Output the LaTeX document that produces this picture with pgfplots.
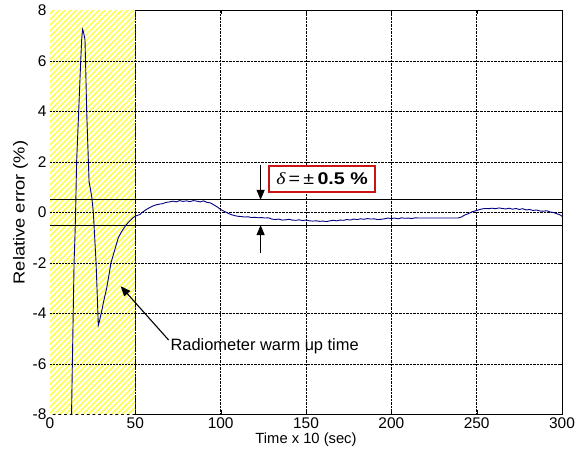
\documentclass[border=0pt]{standalone}
\usepackage{graphicx}
\usepackage{pgfplots}
\pgfplotsset{compat=1.18}
\usepackage{fontspec}
\setmainfont{Liberation Sans}
\newfontfamily\serif{Liberation Serif}
\usetikzlibrary{patterns,arrows.meta}
\definecolor{navy}{RGB}{0,0,128}
\definecolor{hl}{RGB}{255,255,90}
\definecolor{boxred}{RGB}{200,20,20}
\pgfdeclarepatternformonly{widestripes}{\pgfqpoint{-1bp}{-1bp}}{\pgfqpoint{6.7bp}{6.7bp}}{\pgfqpoint{5.7bp}{5.7bp}}{%
  \pgfsetlinewidth{1.9bp}%
  \pgfpathmoveto{\pgfqpoint{-0.5bp}{-0.5bp}}\pgfpathlineto{\pgfqpoint{6.2bp}{6.2bp}}\pgfusepath{stroke}}
\begin{document}
\begin{tikzpicture}[x=1bp,y=1bp]
\path[use as bounding box] (-50,-45.5) rectangle (526,414.5);
\begin{axis}[
  scale only axis, width=512bp, height=404bp,
  xmin=0, xmax=300, ymin=-8, ymax=8,
  xtick={0,50,...,300}, ytick={-8,-6,...,8},
  grid=major, major grid style={black, densely dotted, line width=0.5pt},
  tick align=inside, major tick length=4bp,
  axis line style={black, line width=0.6pt},
  tick style={black},
  tick label style={font=\fontsize{15.5}{17}\selectfont},
  /pgf/number format/assume math mode=true,
  xlabel={Time x 10 (sec)}, ylabel={\scalebox{1.15}[1]{Relative error (\%)}},
  xlabel style={font=\fontsize{14.8}{17}\selectfont, yshift=3bp},
  ylabel style={font=\fontsize{16}{18}\selectfont, yshift=-2bp},
  clip=true,
]
\fill[hl] (axis cs:0,-8) rectangle (axis cs:50,8);
\fill[pattern=widestripes, pattern color=white] (axis cs:0,-8) rectangle (axis cs:50,8);
\draw[black, densely dotted, line width=0.5pt] (axis cs:50,-8) -- (axis cs:50,8);
\foreach \yy in {-6,-4,...,6} {\edef\tmp{\noexpand\draw[black, densely dotted, line width=0.5pt] (axis cs:0,\yy) -- (axis cs:50,\yy);}\tmp}
\addplot[black, line width=0.9pt] coordinates {(0,0.5) (300,0.5)};
\addplot[black, line width=0.9pt] coordinates {(0,-0.5) (300,-0.5)};
\addplot[navy, line width=0.9pt] coordinates {
(12.5,-8.5) (13.1,-6) (13.6,-4) (14.1,-2) (14.6,-1) (15.0,0) (15.6,2) (16.2,3) (16.8,4) (17.4,5) (18.0,6) (18.6,6.9) (19.1,7.25) (19.6,7.15) (20.5,6.85) (21.0,5.5) (21.5,4) (22.0,3) (22.5,2) (22.9,1.2) (23.5,1.0) (24.5,0.6) (25.4,0) (26.2,-1) (27.0,-2) (27.7,-3.3) (28.3,-4.47) (29.0,-4.3) (30.3,-3.9) (31.5,-3.5) (33.2,-3.0) (34.5,-2.5) (35.7,-2.0) (37,-1.7) (38.5,-1.35) (40,-1.0) (42,-0.75) (44.5,-0.5) (46.5,-0.35) (48.7,-0.2) (50.5,-0.13) (52.7,-0.08) (54,0.0) (56,0.1) (58,0.18) (60,0.25) (62,0.3) (64,0.33) (66,0.35) (68,0.4) (70,0.42) (72,0.45) (74,0.42) (76,0.47) (78,0.44) (80,0.46) (82,0.43) (84,0.47) (86,0.45) (88,0.42) (90,0.46) (92,0.40) (94,0.38) (96,0.30) (98,0.22) (100,0.12) (102,0.05) (104,-0.02) (106,-0.08) (108,-0.12) (110,-0.15) (112,-0.16) (114,-0.18) (116,-0.17) (118,-0.2) (120,-0.19) (122,-0.21) (124,-0.2) (126,-0.22) (128,-0.21) (130,-0.26) (132,-0.28) (134,-0.26) (136,-0.30) (138,-0.29) (140,-0.27) (142,-0.30) (144,-0.31) (146,-0.29) (148,-0.32) (150,-0.30) (152,-0.33) (154,-0.34) (156,-0.33) (158,-0.35) (160,-0.34) (162,-0.36) (164,-0.33) (166,-0.31) (168,-0.33) (170,-0.30) (172,-0.31) (174,-0.28) (176,-0.30) (178,-0.26) (180,-0.28) (182,-0.25) (184,-0.27) (186,-0.24) (188,-0.26) (190,-0.25) (192,-0.28) (194,-0.27) (196,-0.25) (198,-0.22) (200,-0.24) (202,-0.22) (204,-0.25) (206,-0.21) (208,-0.23) (210,-0.22) (212,-0.24) (214,-0.21) (216,-0.22) (218,-0.22) (220,-0.22) (225,-0.22) (230,-0.22) (235,-0.22) (239,-0.22) (241,-0.18) (243,-0.1) (245,-0.05) (247,0.02) (249,0.06) (251,0.10) (253,0.14) (255,0.16) (257,0.15) (259,0.17) (261,0.15) (263,0.18) (265,0.16) (267,0.14) (269,0.17) (271,0.13) (273,0.16) (275,0.12) (277,0.15) (279,0.10) (281,0.12) (283,0.08) (285,0.10) (287,0.06) (289,0.05) (291,0.07) (293,0.02) (295,0.0) (297,-0.05) (299,-0.1) (300,-0.15)
};
\draw[black, line width=1.2pt, -{Triangle[length=10bp,width=8bp]}] (axis cs:123.4,1.88) -- (axis cs:123.4,0.5);
\draw[black, line width=1.2pt, -{Triangle[length=10bp,width=8bp]}] (axis cs:123.4,-1.62) -- (axis cs:123.4,-0.5);
\node[draw=boxred, line width=1.2pt, fill=white, minimum width=106bp, minimum height=26bp, inner sep=1bp, font=\fontsize{17}{19}\selectfont]
  at (axis cs:159.4,1.33) {\scalebox{1.16}[1]{{\serif\itshape δ}\,=\,±\,\textbf{0.5 \%}}};
\draw[black, line width=1.1pt, -{Triangle[length=10bp,width=8bp]}] (axis cs:69.5,-5.05) -- (axis cs:41.4,-2.92);
\node[anchor=west, font=\fontsize{16.5}{19}\selectfont, inner sep=0pt] at (axis cs:70.5,-5.3) {Radiometer warm up time};
\end{axis}
\end{tikzpicture}
\end{document}
